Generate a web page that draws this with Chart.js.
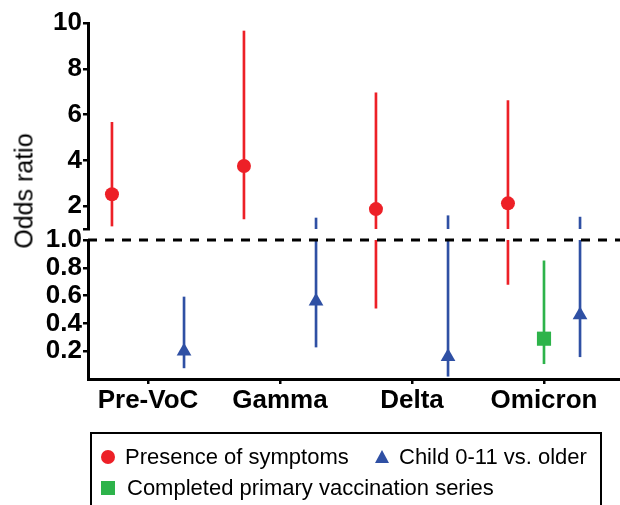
<!DOCTYPE html>
<html>
<head>
<meta charset="utf-8">
<script src="https://cdn.jsdelivr.net/npm/chart.js@4/dist/chart.umd.min.js"></script>
<style>
  body { margin: 0; background: #fff; }
  #wrap { position: relative; width: 620px; height: 505px; overflow: hidden; font-family: "Liberation Sans", Arial, sans-serif; }
  canvas { position: absolute; left: 0; top: 0; }
  #ytitle { position: absolute; left: 24px; top: 191px; font-size: 25px; white-space: nowrap;
            transform: translate(-50%, -50%) rotate(-90deg); color: #000; }
  #legend { position: absolute; left: 90px; top: 432px; width: 508px; height: 90px; border: 2px solid #000; }
  .lbl { position: absolute; font-size: 22px; line-height: 22px; white-space: nowrap; color: #000; }
  .mk { position: absolute; }
</style>
</head>
<body>
<div id="wrap">
  <canvas id="top" width="620" height="505"></canvas>
  <canvas id="bottom" width="620" height="505"></canvas>
  <div id="ytitle">Odds ratio</div>
  <div id="legend"></div>
</div>
<script>
// data
const categories = ["Pre-VoC", "Gamma", "Delta", "Omicron"]
const symptomsOR = [2.52, 3.75, 1.87, 2.12]
const symptomsLo = [1.13, 1.44, 0.51, 0.68]
const symptomsHi = [5.66, 9.65, 6.95, 6.61]
const childOR = [0.20, 0.56, 0.16, 0.46]
const childLo = [0.08, 0.23, 0.02, 0.16]
const childHi = [0.59, 1.48, 1.58, 1.52]
const vaxOR = [null, null, null, 0.29]
const vaxLo = [null, null, null, 0.11]
const vaxHi = [null, null, null, 0.85]

const upperTicks = [1, 2, 4, 6, 8, 10]
const lowerTicks = [0.2, 0.4, 0.6, 0.8, 1.0]

const RED = "#ED2027"
const BLUE = "#2F50A4"
const GREEN = "#2DB34A"

// x range of the axis and side offsets of each series (in category units)
const XMIN = -0.4545
const XMAX = 3.5758
const offRed = -0.273
const offBlue = 0.273
const offGreen = 0

function pts(vals, off) {
    let out = []
    for (let i = 0; i < vals.length; i++) {
        if (vals[i] != null) out.push({ x: i + off, y: vals[i] })
    }
    return out
}
function bars(lo, hi, off) {
    let out = []
    for (let i = 0; i < lo.length; i++) {
        if (lo[i] != null) out.push({ x: i + off, y: [lo[i], hi[i]] })
    }
    return out
}

function makeDatasets(withDash) {
    let ds = [
        { type: "bar", data: bars(symptomsLo, symptomsHi, offRed), backgroundColor: RED, barThickness: 2, grouped: false, clip: 0, order: 3 },
        { type: "bar", data: bars(childLo, childHi, offBlue), backgroundColor: BLUE, barThickness: 2, grouped: false, clip: 0, order: 3 },
        { type: "bar", data: bars(vaxLo, vaxHi, offGreen), backgroundColor: GREEN, barThickness: 2, grouped: false, clip: 0, order: 3 },
        { type: "scatter", data: pts(symptomsOR, offRed), pointStyle: "circle", pointRadius: 7, backgroundColor: RED, borderColor: RED, borderWidth: 0, clip: 0, order: 0 },
        { type: "scatter", data: pts(childOR, offBlue), pointStyle: "triangle", pointRadius: 8.5, backgroundColor: BLUE, borderColor: BLUE, borderWidth: 0, clip: 0, order: 0 },
        { type: "scatter", data: pts(vaxOR, offGreen), pointStyle: "rect", pointRadius: 10, backgroundColor: GREEN, borderColor: GREEN, borderWidth: 0, clip: 0, order: 0 }
    ]
    if (withDash) {
        ds.push({ type: "line", data: [{ x: XMIN, y: 1 }, { x: XMAX, y: 1 }], borderColor: "#000", borderWidth: 3,
                  borderDash: [9, 8], pointRadius: 0, clip: false, order: 1 })
    }
    return ds
}

const tickFont = { family: "'Liberation Sans', Arial, sans-serif", size: 26, weight: "bold" }
const axisGrid = { drawOnChartArea: false, offset: false, color: "#000", lineWidth: 2.5, tickLength: 5 }
const axisBorder = { display: true, color: "#000", width: 3 }

function yAxis(min, max, ticks, fmt) {
    return {
        type: "linear", min: min, max: max,
        afterBuildTicks: (s) => { s.ticks = ticks.map(v => ({ value: v })) },
        afterFit: (s) => { s.width = 88; s.paddingTop = 0; s.paddingBottom = 0 },
        ticks: { font: tickFont, color: "#000", padding: 1, callback: fmt },
        grid: axisGrid, border: axisBorder
    }
}

const common = {
    responsive: false,
    devicePixelRatio: 1,
    animation: false,
    events: [],
    plugins: { legend: { display: false }, tooltip: { enabled: false } }
}

// upper panel: 1 to 10
new Chart(document.getElementById("top"), {
    type: "scatter",
    data: { datasets: makeDatasets(false) },
    options: Object.assign({}, common, {
        layout: { autoPadding: false, padding: { top: 23, bottom: 276, left: 0, right: 0 } },
        scales: {
            x: { type: "linear", min: XMIN, max: XMAX, offset: false, display: false },
            y: yAxis(1, 10, upperTicks, v => (v === 1 ? "" : v))
        }
    })
})

// lower panel: 0 to 1 with the category axis
new Chart(document.getElementById("bottom"), {
    type: "scatter",
    data: { datasets: makeDatasets(true) },
    options: Object.assign({}, common, {
        layout: { autoPadding: false, padding: { top: 240, bottom: 86, left: 0, right: 0 } },
        scales: {
            x: {
                type: "linear", min: XMIN, max: XMAX, offset: false,
                afterBuildTicks: (s) => { s.ticks = categories.map((c, i) => ({ value: i })) },
                afterFit: (s) => { s.height = 40; s.paddingLeft = 0; s.paddingRight = 0 },
                ticks: { font: tickFont, color: "#000", padding: 1, maxRotation: 0, autoSkip: false,
                         callback: v => categories[v] },
                grid: axisGrid, border: axisBorder
            },
            y: yAxis(0, 1, lowerTicks, v => v.toFixed(1))
        }
    })
})

// legend
const legendItems = [
    { text: "Presence of symptoms", color: RED, shape: "circle", mx: 16, tx: 33, y: 23 },
    { text: "Child 0-11 vs. older", color: BLUE, shape: "triangle", mx: 290, tx: 307, y: 23 },
    { text: "Completed primary vaccination series", color: GREEN, shape: "square", mx: 16, tx: 35, y: 54 }
]
const legend = document.getElementById("legend")
legendItems.forEach(it => {
    let m = document.createElement("div")
    m.className = "mk"
    if (it.shape == "circle") {
        m.style.cssText = `left:${it.mx - 7}px;top:${it.y - 7}px;width:14px;height:14px;border-radius:50%;background:${it.color}`
    } else if (it.shape == "triangle") {
        m.style.cssText = `left:${it.mx - 7.5}px;top:${it.y - 7}px;width:0;height:0;border-left:7.5px solid transparent;border-right:7.5px solid transparent;border-bottom:13px solid ${it.color}`
    } else {
        m.style.cssText = `left:${it.mx - 7}px;top:${it.y - 7}px;width:14px;height:14px;background:${it.color}`
    }
    legend.appendChild(m)
    let t = document.createElement("div")
    t.className = "lbl"
    t.textContent = it.text
    t.style.left = it.tx + "px"
    t.style.top = (it.y - 11) + "px"
    legend.appendChild(t)
})
</script>
</body>
</html>
